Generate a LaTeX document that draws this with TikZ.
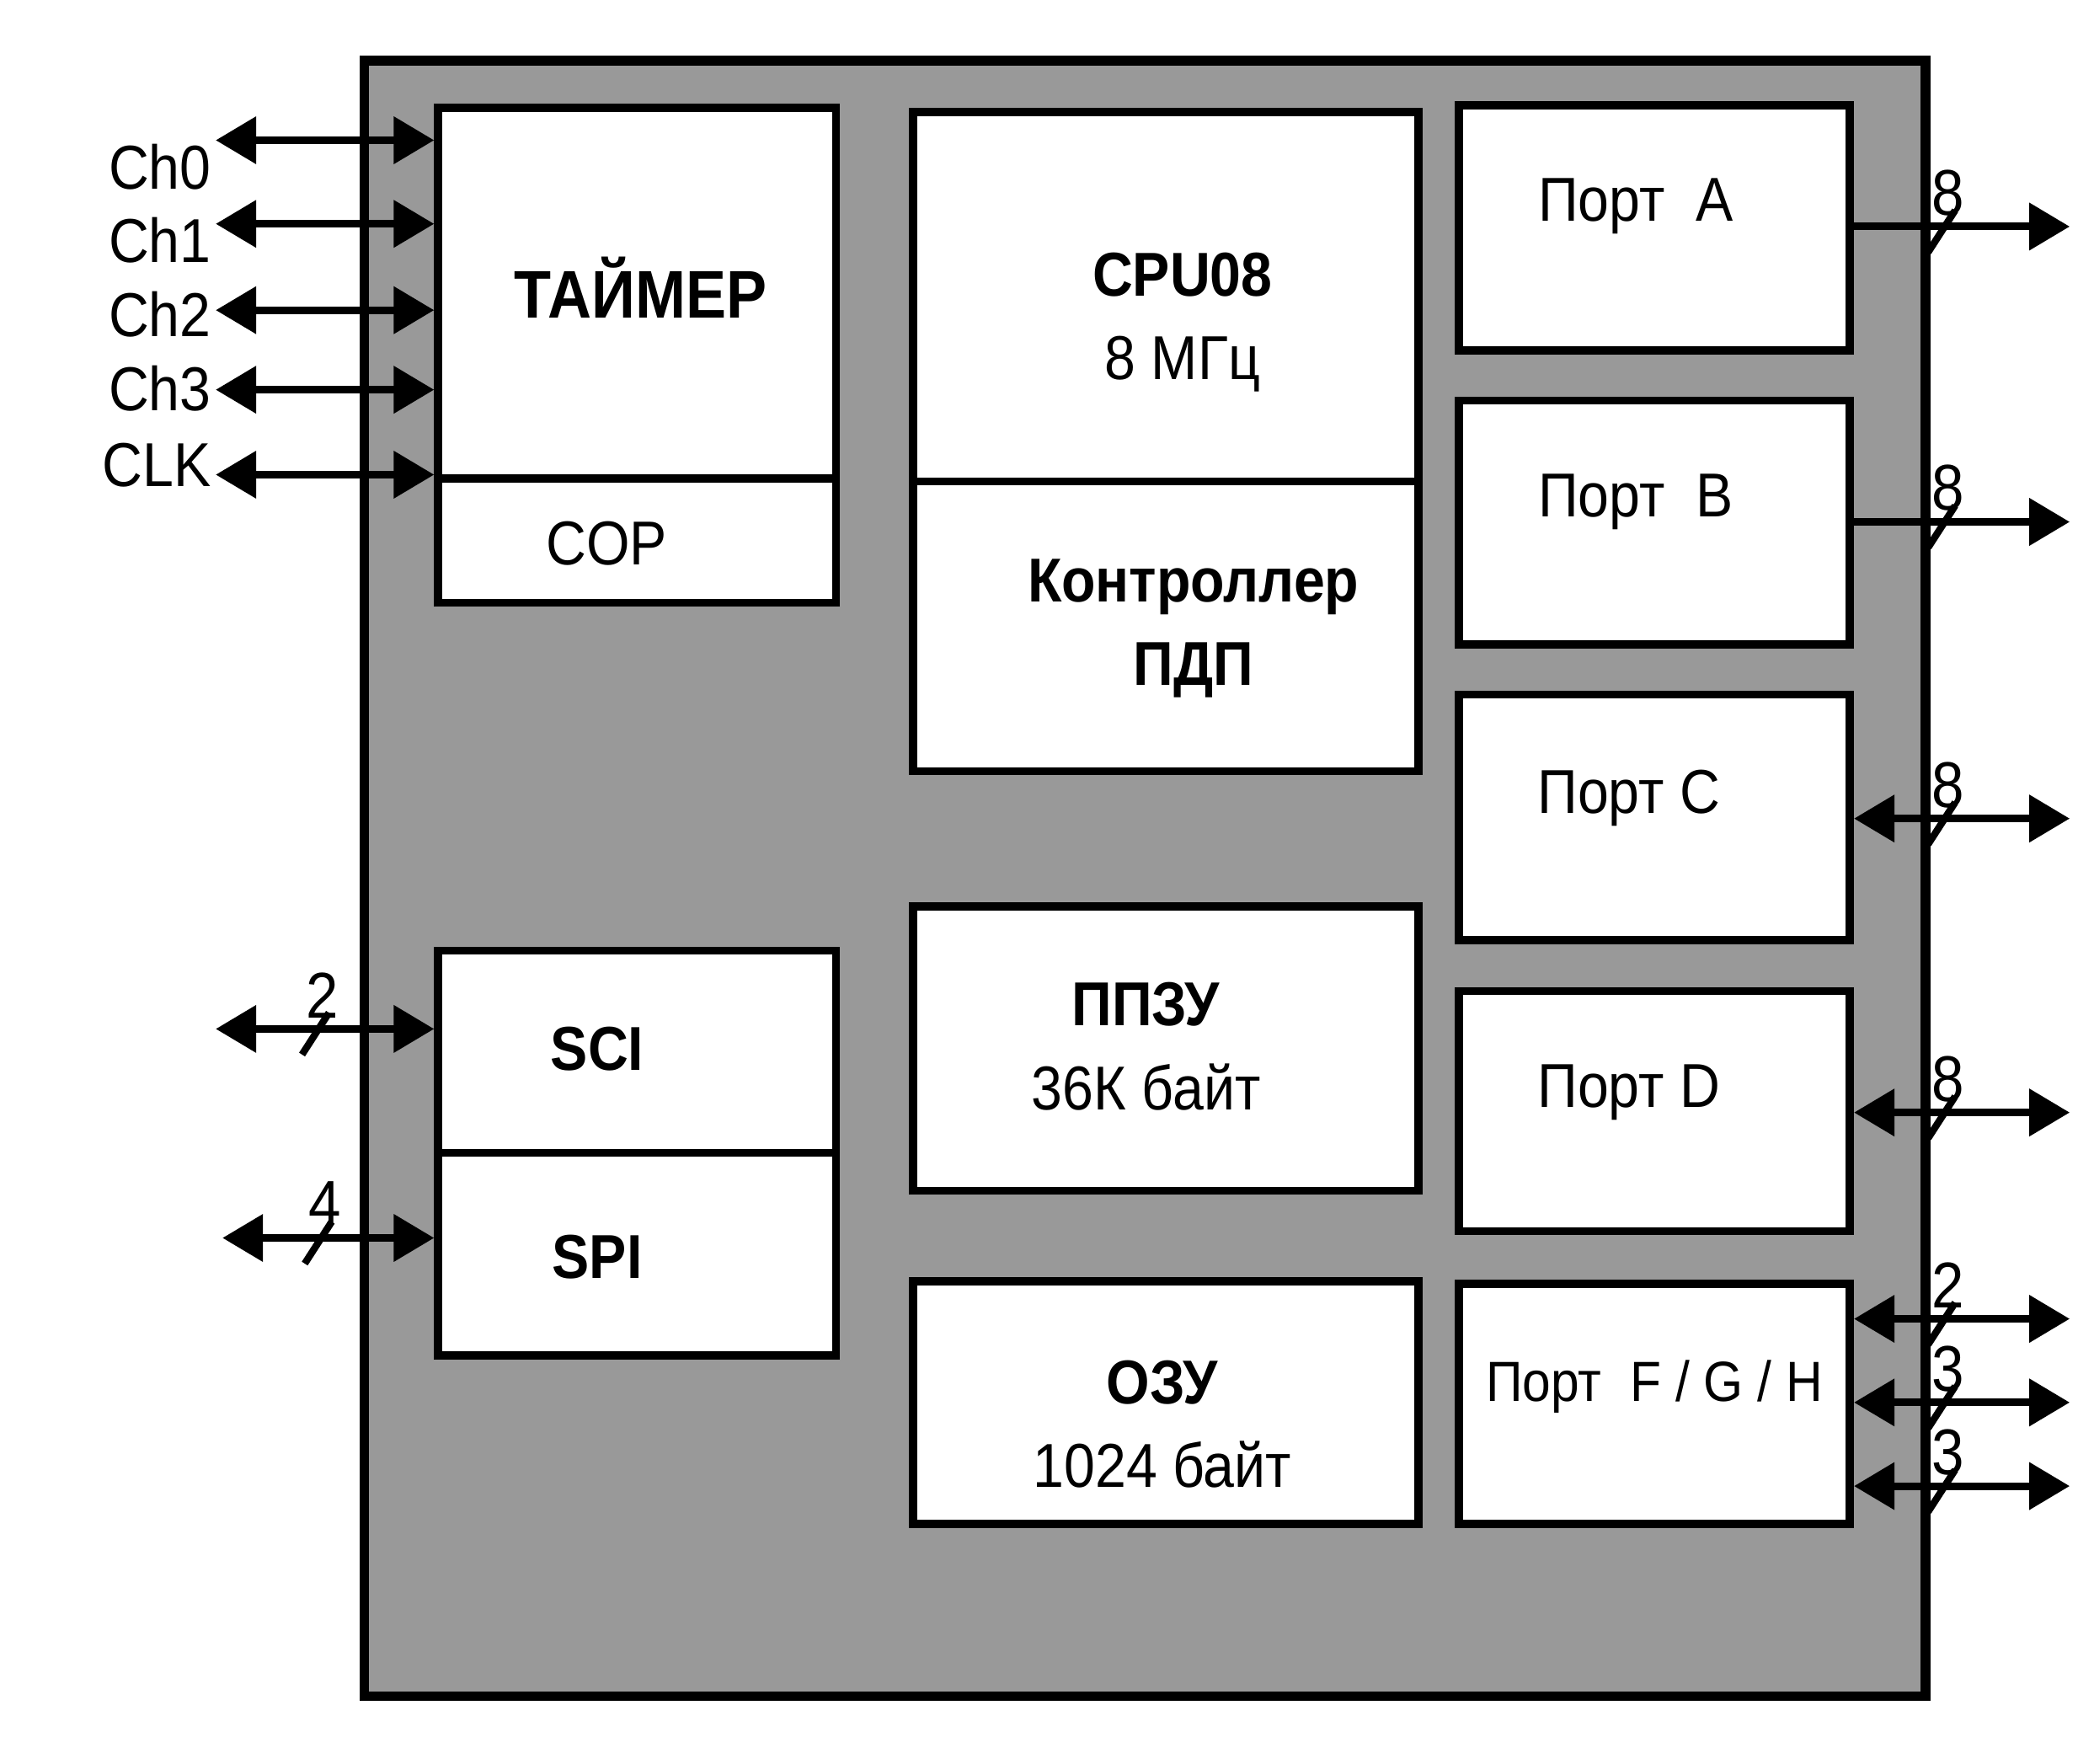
\documentclass[tikz,border=0pt]{standalone}
\usepackage{fontspec}
\setmainfont[FakeStretch=0.9]{Liberation Sans}
\usetikzlibrary{arrows.meta}

\tikzset{
  chip/.style={draw, line width=3.5pt, fill=black!40, inner sep=0pt},
  blk/.style={draw, line width=3pt, fill=white, inner sep=0pt},
  lbl/.style={font=\fontsize{23}{31}\selectfont, align=center, inner sep=0pt},
  hdr/.style={lbl, font=\fontsize{23}{31}\selectfont\bfseries},
  wid/.style={font=\fontsize{24}{26}\selectfont, inner sep=0pt},
  bus/.style={line width=2.8pt, {Triangle[length=15pt,width=17pt]}-{Triangle[length=15pt,width=17pt]}},
  obus/.style={line width=2.8pt, -{Triangle[length=15pt,width=17pt]}},
}
\newcommand{\buswidth}[4]{%
  \draw[line width=2.6pt] (#2-10,#3+19) -- (#2+10,#3-12);
  \node[wid] (#1) at (#2+5,#3-25) {#4};}

\begin{document}
\begin{tikzpicture}[x=0.5pt, y=-0.5pt]
  \useasboundingbox (0,0) rectangle (1553,1307.5);
  \node[chip, minimum width=579pt, minimum height=606.5pt] (mcu) at (849,651.5) {};

  \node[blk, minimum width=147.5pt, minimum height=137.5pt] (tmr) at (472.5,217.5) {};
  \node[blk, minimum width=147.5pt, minimum height=46pt] (cop) at (472.5,401) {};
  \node[blk, minimum width=147.5pt, minimum height=75pt] (sci) at (472.5,780) {};
  \node[blk, minimum width=147.5pt, minimum height=75pt] (spi) at (472.5,930) {};

  \node[blk, minimum width=187.5pt, minimum height=137pt] (cpu) at (864.5,220) {};
  \node[blk, minimum width=187.5pt, minimum height=107.5pt] (dma) at (864.5,464.5) {};
  \node[blk, minimum width=187.5pt, minimum height=105.5pt] (rom) at (864.5,777.5) {};
  \node[blk, minimum width=187.5pt, minimum height=90pt] (ram) at (864.5,1040) {};

  \node[blk, minimum width=145pt, minimum height=91pt] (pA) at (1227,169) {};
  \node[blk, minimum width=145pt, minimum height=90.5pt] (pB) at (1227,387.5) {};
  \node[blk, minimum width=145pt, minimum height=91pt] (pC) at (1227,606) {};
  \node[blk, minimum width=145pt, minimum height=89pt] (pD) at (1227,824) {};
  \node[blk, minimum width=145pt, minimum height=89pt] (pF) at (1227,1041) {};

  \node[hdr, font=\fontsize{25}{31}\selectfont\bfseries] (tTmr) at (475,213) {ТАЙМЕР};
  \node[lbl] (tCop) at (450,403) {COP};
  \node[hdr] (tSci) at (443,778) {SCI};
  \node[hdr] (tSpi) at (443,932) {SPI};
  \node[lbl] (tCpu) at (877,239) {\textbf{CPU08}\\8 МГц};
  \node[hdr] (tDma) at (885,466) {Контроллер\\ПДП};
  \node[lbl] (tRom) at (850,776) {\textbf{ППЗУ}\\36К байт};
  \node[lbl] (tRam) at (862,1056) {\textbf{ОЗУ}\\1024 байт};
  \node[lbl] (tA) at (1213,153) {Порт\ \ A};
  \node[lbl] (tB) at (1213,372) {Порт\ \ B};
  \node[lbl] (tC) at (1208,592) {Порт C};
  \node[lbl] (tD) at (1208,810) {Порт D};
  \node[lbl, font=\fontsize{21}{24}\selectfont] (tF) at (1227,1028) {Порт\ \ F / G / H};

  \node[lbl, anchor=east] (lCh0) at (157,124) {Ch0};
  \node[lbl, anchor=east] (lCh1) at (157,178) {Ch1};
  \node[lbl, anchor=east] (lCh2) at (157,233) {Ch2};
  \node[lbl, anchor=east] (lCh3) at (157,288) {Ch3};
  \node[lbl, anchor=east] (lClk) at (157,345) {CLK};

  \coordinate (ch0) at (160,104);
  \coordinate (ch1) at (160,166);
  \coordinate (ch2) at (160,230);
  \coordinate (ch3) at (160,289);
  \coordinate (clk) at (160,352);
  \draw[bus] (ch0) -- (ch0 -| tmr.west);
  \draw[bus] (ch1) -- (ch1 -| tmr.west);
  \draw[bus] (ch2) -- (ch2 -| tmr.west);
  \draw[bus] (ch3) -- (ch3 -| tmr.west);
  \draw[bus] (clk) -- (clk -| tmr.west);

  \coordinate (sciL) at (160,763);
  \coordinate (spiL) at (165,918);
  \draw[bus] (sciL) -- (sciL -| sci.west);
  \draw[bus] (spiL) -- (spiL -| spi.west);
  \buswidth{wSci}{234}{763}{2}
  \buswidth{wSpi}{236}{918}{4}

  \coordinate (oA) at (1535,168);
  \coordinate (oB) at (1535,387);
  \coordinate (oC) at (1535,607);
  \coordinate (oD) at (1535,825);
  \coordinate (oF) at (1535,978);
  \coordinate (oG) at (1535,1040);
  \coordinate (oH) at (1535,1102);
  \draw[obus] (oA -| pA.east) -- (oA);
  \draw[obus] (oB -| pB.east) -- (oB);
  \draw[bus] (oC -| pC.east) -- (oC);
  \draw[bus] (oD -| pD.east) -- (oD);
  \draw[bus] (oF -| pF.east) -- (oF);
  \draw[bus] (oG -| pF.east) -- (oG);
  \draw[bus] (oH -| pF.east) -- (oH);
  \buswidth{wA}{1440}{168}{8}
  \buswidth{wB}{1440}{387}{8}
  \buswidth{wC}{1440}{607}{8}
  \buswidth{wD}{1440}{825}{8}
  \buswidth{wF}{1440}{978}{2}
  \buswidth{wG}{1440}{1040}{3}
  \buswidth{wH}{1440}{1102}{3}
\end{tikzpicture}
\end{document}
